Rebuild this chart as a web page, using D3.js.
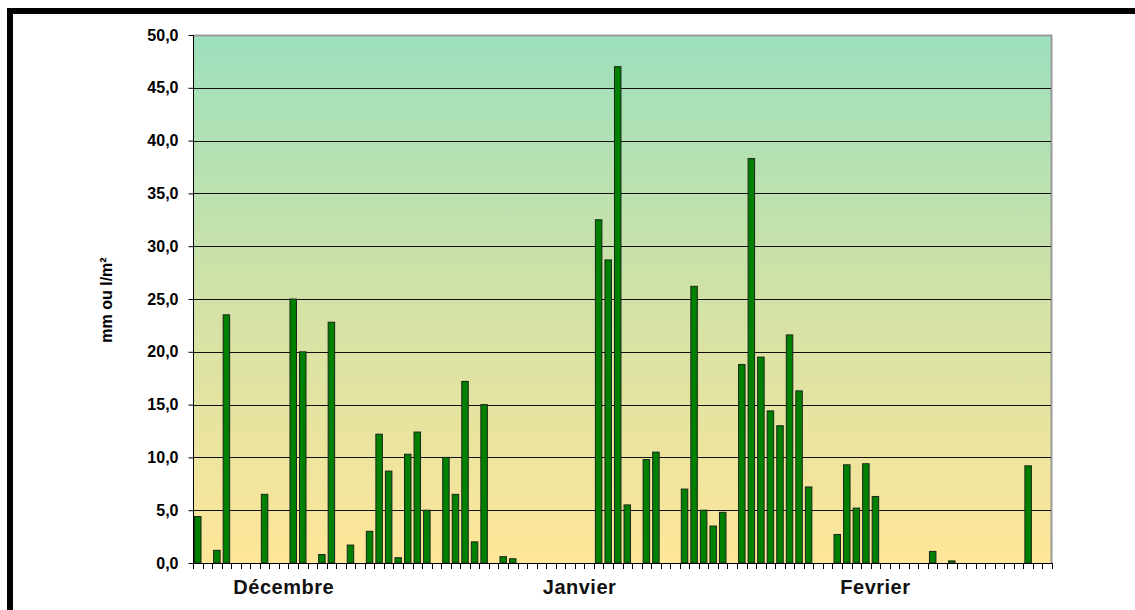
<!DOCTYPE html>
<html>
<head>
<meta charset="utf-8">
<script src="https://cdn.jsdelivr.net/npm/d3@7"></script>
<style>
html,body{margin:0;padding:0;background:#fff;}
svg{display:block;}
</style>
</head>
<body>
<svg id="chart" width="1135" height="610"></svg>
<script>
// ---- data ----
const months = ["Décembre", "Janvier", "Fevrier"];
const monthDays = [31, 31, 28];
const labelDay = 10; // month name shown under this day of each month
const rainfall = [
  4.4, 0, 1.2, 23.5, 0, 0, 0, 6.5, 0, 0,
  25.0, 20.0, 0, 0.8, 22.8, 0, 1.7, 0, 3.0, 12.2,
  8.7, 0.5, 10.3, 12.4, 5.0, 0, 10.0, 6.5, 17.2, 2.0,
  15.0,
  0, 0.6, 0.4, 0, 0, 0, 0, 0, 0, 0,
  0, 32.5, 28.7, 47.0, 5.5, 0, 9.8, 10.5, 0, 0,
  7.0, 26.2, 5.0, 3.5, 4.8, 0, 18.8, 38.3, 19.5, 14.4,
  13.0,
  21.6, 16.3, 7.2, 0, 0, 2.7, 9.3, 5.2, 9.4, 6.3,
  0, 0, 0, 0, 0, 1.1, 0, 0.2, 0, 0,
  0, 0, 0, 0, 0, 9.2, 0, 0
];
const yTicks = [0, 5, 10, 15, 20, 25, 30, 35, 40, 45, 50];
const yTitle = "mm ou l/m²";

// categories: one per day
const categories = [];
months.forEach((m, mi) => {
  for (let d = 1; d <= monthDays[mi]; d++) categories.push({ key: m + "-" + d, month: m, day: d });
});
const data = categories.map((c, i) => ({ ...c, value: rainfall[i] }));

// ---- layout ----
const svg = d3.select("#chart");
const pLeft = 193, pRight = 1052, pTop = 35, pBottom = 563;

const x = d3.scaleBand().domain(categories.map(c => c.key)).range([pLeft, pRight]).padding(0);
const y = d3.scaleLinear().domain([0, 50]).range([pBottom, pTop]);

// outer frame (top and left thick black lines)
svg.append("rect").attr("x", 7).attr("y", 8).attr("width", 1128).attr("height", 6).attr("fill", "#000");
svg.append("rect").attr("x", 7).attr("y", 8).attr("width", 6).attr("height", 602).attr("fill", "#000");

// gradient background
const defs = svg.append("defs");
const grad = defs.append("linearGradient").attr("id", "bg").attr("x1", 0).attr("y1", 0).attr("x2", 0).attr("y2", 1);
grad.append("stop").attr("offset", "0%").attr("stop-color", "#9ce0bd");
grad.append("stop").attr("offset", "50%").attr("stop-color", "#d2e2a6");
grad.append("stop").attr("offset", "100%").attr("stop-color", "#ffe699");
svg.append("rect").attr("x", pLeft).attr("y", pTop).attr("width", pRight - pLeft).attr("height", pBottom - pTop)
  .attr("fill", "url(#bg)");

// plot border (top/right gray)
svg.append("path").attr("d", `M${pLeft},${pTop + 0.5}H${pRight - 0.5}V${pBottom}`)
  .attr("fill", "none").attr("stroke", "#9a9a9a").attr("stroke-width", 2);

// gridlines
svg.append("g").selectAll("line").data(yTicks.filter(t => t > 0 && t < 50)).join("line")
  .attr("x1", pLeft).attr("x2", pRight - 1)
  .attr("y1", d => Math.round(y(d)) + 0.5).attr("y2", d => Math.round(y(d)) + 0.5)
  .attr("stroke", "#111").attr("stroke-width", 1);

// bars
const bw = x.bandwidth();
svg.append("g").selectAll("rect").data(data.filter(d => d.value > 0)).join("rect")
  .attr("x", d => x(d.key) + bw * 0.16)
  .attr("width", bw * 0.68)
  .attr("y", d => y(d.value))
  .attr("height", d => y(0) - y(d.value))
  .attr("fill", "#008000")
  .attr("stroke", "#1a261a")
  .attr("stroke-width", 1);

// y axis
const yAxis = d3.axisLeft(y).tickValues(yTicks).tickSize(5).tickPadding(10)
  .tickFormat(d => d3.format(".1f")(d).replace(".", ","));
const gy = svg.append("g").attr("transform", `translate(${pLeft + 0.5},0)`).call(yAxis);
gy.select(".domain").attr("stroke", "#000").attr("d", `M0,${pTop}V${pBottom}`);
gy.selectAll(".tick line").attr("stroke", "#000");
gy.selectAll(".tick text").attr("font-family", "'Liberation Sans', Arial, sans-serif")
  .attr("font-weight", "bold").attr("font-size", 16).attr("fill", "#000");

// x axis: tick marks at category boundaries
const gx = svg.append("g");
gx.append("line").attr("x1", pLeft).attr("x2", pRight).attr("y1", pBottom + 0.5).attr("y2", pBottom + 0.5)
  .attr("stroke", "#000");
const boundaries = categories.map(c => x(c.key)).concat([pRight]);
gx.selectAll("line.tk").data(boundaries).join("line").attr("class", "tk")
  .attr("x1", d => Math.round(d) + 0.5).attr("x2", d => Math.round(d) + 0.5)
  .attr("y1", pBottom).attr("y2", pBottom + 6).attr("stroke", "#000");

// month labels
gx.selectAll("text.month").data(categories.filter(c => c.day === labelDay)).join("text").attr("class", "month")
  .attr("x", d => x(d.key) + bw / 2)
  .attr("y", 594)
  .attr("text-anchor", "middle")
  .attr("font-family", "'Liberation Sans', Arial, sans-serif")
  .attr("font-weight", "bold").attr("font-size", 20).attr("letter-spacing", 0.5)
  .attr("fill", "#111")
  .text(d => d.month);

// y title
svg.append("text")
  .attr("transform", "translate(112,300) rotate(-90)")
  .attr("text-anchor", "middle")
  .attr("font-family", "'Liberation Sans', Arial, sans-serif")
  .attr("font-weight", "bold").attr("font-size", 16)
  .attr("fill", "#000")
  .text(yTitle);
</script>
</body>
</html>
